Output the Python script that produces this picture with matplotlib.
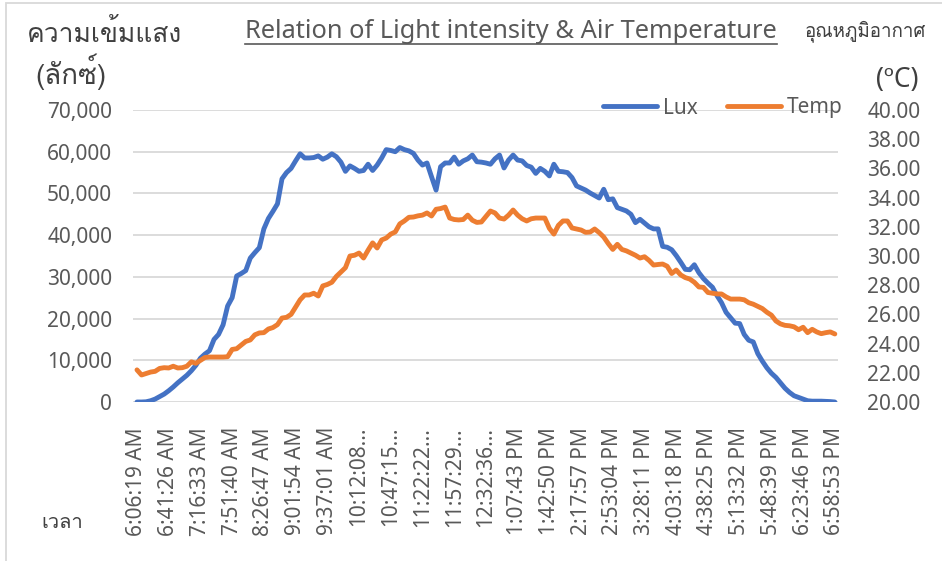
import matplotlib
matplotlib.use('Agg')
import matplotlib.pyplot as plt
from matplotlib.lines import Line2D
from matplotlib.patches import Rectangle

# time labels shown on the axis (every 7th reading)
tick_labels = ['6:06:19 AM', '6:41:26 AM', '7:16:33 AM', '7:51:40 AM', '8:26:47 AM',
               '9:01:54 AM', '9:37:01 AM', '10:12:08...', '10:47:15...', '11:22:22...',
               '11:57:29...', '12:32:36...', '1:07:43 PM', '1:42:50 PM', '2:17:57 PM',
               '2:53:04 PM', '3:28:11 PM', '4:03:18 PM', '4:38:25 PM', '5:13:32 PM',
               '5:48:39 PM', '6:23:46 PM', '6:58:53 PM']

lux = [0, 0, 50, 300, 700, 1300, 1900, 2700, 3600, 4600,
       5500, 6400, 7500, 8800, 10500, 11500, 12300, 15000, 16200, 18500,
       23000, 25000, 30200, 30800, 31500, 34500, 35800, 37000, 41500, 44000,
       45700, 47500, 53500, 55000, 56000, 57800, 59500, 58500, 58500, 58600,
       59000, 58200, 58700, 59500, 58800, 57500, 55300, 56600, 56000, 55300,
       55500, 57000, 55500, 56800, 58500, 60500, 60300, 60000, 61000, 60500,
       60200, 59600, 58000, 56800, 57300, 54000, 50800, 56400, 57300, 57300,
       58700, 57000, 57800, 58300, 59200, 57600, 57500, 57300, 57000, 58300,
       59200, 56100, 58000, 59200, 58000, 57800, 56700, 56300, 54800, 56000,
       55300, 54200, 57000, 55300, 55200, 55000, 53800, 51800, 51300, 50800,
       50100, 49500, 48900, 51000, 48500, 48700, 46600, 46200, 45800, 45000,
       43000, 43800, 42900, 42000, 41500, 41500, 37300, 37100, 36500, 35100,
       33500, 31800, 31700, 32900, 31000, 29600, 28500, 27500, 25500, 23800,
       21500, 20200, 18900, 18800, 16200, 14800, 14400, 11600, 9800, 8200,
       6900, 5900, 4600, 3300, 2300, 1500, 1100, 700, 300, 200,
       200, 200, 150, 100, 0]

temp = [22.20, 21.85, 21.95, 22.05, 22.10, 22.30, 22.35, 22.33, 22.45, 22.33,
        22.35, 22.45, 22.75, 22.65, 22.85, 23.05, 23.08, 23.08, 23.08, 23.08,
        23.10, 23.60, 23.65, 23.90, 24.15, 24.25, 24.60, 24.73, 24.75, 25.00,
        25.10, 25.30, 25.75, 25.80, 26.00, 26.50, 27.00, 27.33, 27.33, 27.45,
        27.26, 27.95, 28.05, 28.20, 28.60, 28.90, 29.20, 30.00, 30.05, 30.20,
        29.86, 30.40, 30.90, 30.55, 31.10, 31.23, 31.50, 31.65, 32.20, 32.40,
        32.65, 32.67, 32.75, 32.80, 32.95, 32.74, 33.20, 33.25, 33.35, 32.60,
        32.50, 32.47, 32.50, 32.80, 32.45, 32.30, 32.33, 32.70, 33.08, 32.95,
        32.60, 32.53, 32.80, 33.15, 32.80, 32.55, 32.40, 32.55, 32.60, 32.60,
        32.60, 31.90, 31.50, 32.10, 32.40, 32.40, 31.92, 31.85, 31.78, 31.62,
        31.64, 31.85, 31.60, 31.30, 30.85, 30.45, 30.80, 30.45, 30.35, 30.20,
        30.05, 29.86, 29.95, 29.70, 29.38, 29.42, 29.45, 29.30, 28.80, 29.04,
        28.70, 28.52, 28.42, 28.20, 27.88, 27.85, 27.50, 27.45, 27.40, 27.40,
        27.20, 27.05, 27.05, 27.05, 27.00, 26.80, 26.70, 26.55, 26.40, 26.15,
        25.95, 25.55, 25.35, 25.25, 25.22, 25.15, 24.95, 25.12, 24.75, 24.98,
        24.80, 24.68, 24.75, 24.80, 24.66]

plt.rcParams['font.family'] = ['Noto Sans', 'DejaVu Sans']
thai_family = ['Loma', 'Noto Sans', 'DejaVu Sans']
grey = '#595959'
dark = '#404040'

W, H = 942, 561
fig = plt.figure(figsize=(W / 100, H / 100), dpi=100)
ax = fig.add_axes([133 / W, 1 - 402 / H, (838 - 133) / W, (402 - 110) / H])
ax2 = ax.twinx()

x = list(range(len(lux)))
l1, = ax.plot(x, lux, color='#4472C4', lw=3.5, solid_joinstyle='round', solid_capstyle='round', label='Lux')
l2, = ax2.plot(x, temp, color='#ED7D31', lw=3.5, solid_joinstyle='round', solid_capstyle='round', label='Temp')

ax.set_xlim(-0.88, len(lux) - 1 + 0.7)
ax.set_ylim(0, 70000)
ax2.set_ylim(20, 40)
ax.set_yticks(range(0, 70001, 10000))
ax.set_yticklabels([f'{v:,}' for v in range(0, 70001, 10000)])
ax2.set_yticks([20 + 2 * i for i in range(11)])
ax2.set_yticklabels([f'{20 + 2 * i:.2f}' for i in range(11)])

ax.set_xticks(range(0, len(lux), 7))
ax.set_xticklabels(tick_labels, rotation=90, va='top', ha='center')

ax.yaxis.grid(True, color='#d9d9d9', lw=1.3)
ax.set_axisbelow(True)
for a in (ax, ax2):
    for s in a.spines.values():
        s.set_visible(False)
ax.tick_params(axis='y', length=0, pad=15, labelsize=15, labelcolor=grey)
ax.tick_params(axis='x', length=0, pad=18, labelsize=15, labelcolor=grey)
ax2.tick_params(axis='y', length=0, pad=21, labelsize=15, labelcolor=grey)

fig.legend(handles=[l1, l2], ncol=2, loc='center right', bbox_to_anchor=(843 / W, 1 - 108 / H),
           frameon=False, fontsize=15, handlelength=2.6, handletextpad=0.3,
           columnspacing=1.4, borderpad=0, borderaxespad=0, labelcolor=grey)

title = fig.text(511 / W, 1 - 32 / H, 'Relation of Light intensity & Air Temperature',
                 ha='center', va='center', fontsize=18.3, color=grey)

fig.text(27 / W, 1 - 33 / H, 'ความเข้มแสง', fontsize=19, color=dark, va='center', family=thai_family)
fig.text(35 / W, 1 - 72 / H, '(ลักซ์)', fontsize=20, color=dark, va='center', family=thai_family)
fig.text(805 / W, 1 - 31 / H, 'อุณหภูมิอากาศ', fontsize=13.5, color=dark, va='center', family=thai_family)
fig.text(897 / W, 1 - 80 / H, '(ºC)', fontsize=19, color=dark, va='center', ha='center')
fig.text(62 / W, 1 - 523 / H, 'เวลา', fontsize=14.5, color=dark, va='center', ha='center', family=thai_family)

# chart border (only left and top edges are visible in the shot)
fig.patches.append(Rectangle((6 / W, -0.1), 1.0, 1.1 - 3 / H, transform=fig.transFigure,
                             fill=False, edgecolor='#d9d9d9', lw=1.3))

# underline the title
fig.canvas.draw()
bb = title.get_window_extent()
fig.add_artist(Line2D([bb.x0 / W, bb.x1 / W], [(bb.y0 + 1) / H] * 2, transform=fig.transFigure,
                      color=grey, lw=1.2))

fig.savefig('out.png', dpi=100)
